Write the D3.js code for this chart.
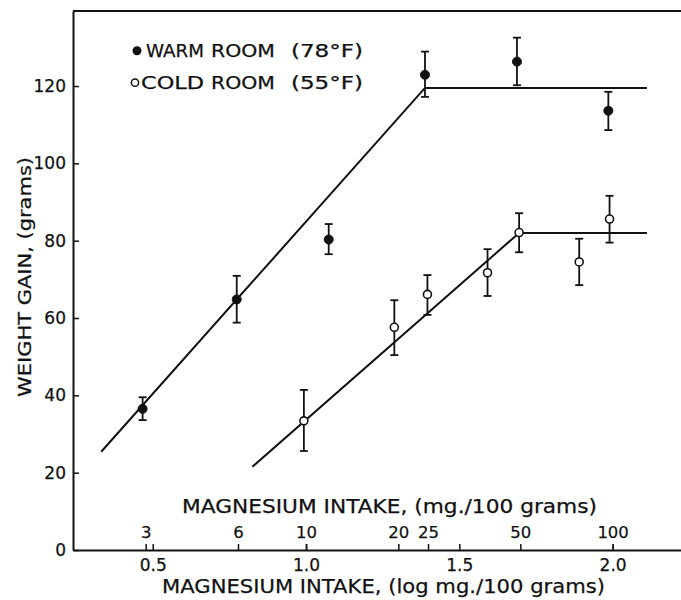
<!DOCTYPE html>
<html>
<head>
<meta charset="utf-8">
<script src="https://cdn.jsdelivr.net/npm/d3@7/dist/d3.min.js"></script>
<style>
  html, body { margin: 0; padding: 0; background: #fff; }
  svg text { font-family: "DejaVu Sans", "Liberation Sans", Arial, sans-serif; fill: #111; stroke: #111; stroke-width: 0.25px; }
</style>
</head>
<body>
<svg id="chart" width="681" height="600"></svg>
<script>
// ---- data ----
const warmLogIntake = [0.467, 0.774, 1.074, 1.388, 1.688, 1.986];
const warmGain      = [36.5, 64.8, 80.3, 122.9, 126.3, 113.6];
const warmLow       = [33.6, 58.8, 76.5, 117.2, 120.2, 108.6];
const warmHigh      = [39.5, 70.9, 84.3, 128.9, 132.5, 118.5];

const coldLogIntake = [0.993, 1.288, 1.396, 1.592, 1.695, 1.891, 1.990];
const coldGain      = [33.4, 57.6, 66.1, 71.7, 82.1, 74.5, 85.6];
const coldLow       = [25.6, 50.4, 60.8, 65.7, 77.0, 68.5, 79.5];
const coldHigh      = [41.4, 64.6, 71.1, 77.8, 87.1, 80.5, 91.6];

const warmFitX = [0.332, 1.388, 2.112];
const warmFitY = [25.4, 119.5, 119.5];
const coldFitX = [0.825, 1.695, 2.112];
const coldFitY = [21.5, 82.0, 82.0];

const yTicks = [0, 20, 40, 60, 80, 100, 120];
const logTicks = [0.5, 1.0, 1.5, 2.0];
const mgTicks = [3, 6, 10, 20, 25, 50, 100];

const legendWords = ["WARM", "COLD"];
const legendRoom = ["ROOM", "ROOM"];
const legendTemps = ["(78°F)", "(55°F)"];

// ---- layout ----
const svg = d3.select("#chart");
const x = d3.scaleLinear().domain([0.24, 2.223]).range([73, 681]);
const y = d3.scaleLinear().domain([0, 139.4]).range([550, 11]);
const ink = "#111";

// top frame line
svg.append("line")
  .attr("x1", x.range()[0]).attr("x2", x.range()[1])
  .attr("y1", y.range()[1]).attr("y2", y.range()[1])
  .attr("stroke", ink).attr("stroke-width", 2);

// y axis
const gy = svg.append("g").attr("transform", `translate(${x.range()[0]},0)`)
  .call(d3.axisLeft(y).tickValues(yTicks).tickSizeInner(-6).tickSizeOuter(0).tickPadding(7).tickFormat(d3.format("d")));
gy.select(".domain").attr("stroke", ink).attr("stroke-width", 2);
gy.selectAll(".tick line").attr("stroke", ink).attr("stroke-width", 1.5);
gy.selectAll(".tick text").style("font-size", "17px").attr("fill", ink);

// bottom log axis
const gx = svg.append("g").attr("transform", `translate(0,${y.range()[0]})`)
  .call(d3.axisBottom(x).tickValues(logTicks).tickSizeInner(-6).tickSizeOuter(0).tickPadding(0).tickFormat(d3.format(".1f")));
gx.select(".domain").attr("stroke", ink).attr("stroke-width", 2);
gx.selectAll(".tick line").attr("stroke", ink).attr("stroke-width", 1.5);
gx.selectAll(".tick text").attr("y", 20.5).attr("dy", null).style("font-size", "17px").attr("fill", ink);

// top (mg) tick labels on the same baseline axis
const gm = svg.append("g").attr("transform", `translate(0,${y.range()[0]})`)
  .call(d3.axisTop(x).tickValues(mgTicks.map(v => Math.log10(v))).tickSizeInner(6).tickSizeOuter(0).tickPadding(6)
    .tickFormat((d, i) => String(mgTicks[i])));
gm.select(".domain").remove();
gm.selectAll(".tick line").attr("stroke", ink).attr("stroke-width", 1.5);
gm.selectAll(".tick text").style("font-size", "16.5px").attr("fill", ink);

// axis titles
svg.append("text").attr("x", 389.5).attr("y", 513).attr("text-anchor", "middle")
  .attr("textLength", 415).attr("lengthAdjust", "spacingAndGlyphs")
  .style("font-size", "19px").text("MAGNESIUM  INTAKE, (mg./100 grams)");
svg.append("text").attr("x", 383.5).attr("y", 593).attr("text-anchor", "middle")
  .attr("textLength", 443).attr("lengthAdjust", "spacingAndGlyphs")
  .style("font-size", "20px").text("MAGNESIUM  INTAKE, (log  mg./100 grams)");
svg.append("text").attr("transform", "translate(31,277) rotate(-90)").attr("text-anchor", "middle")
  .attr("textLength", 240).attr("lengthAdjust", "spacingAndGlyphs")
  .style("font-size", "18px").text("WEIGHT  GAIN, (grams)");

// fitted lines
const line = d3.line().x(d => x(d[0])).y(d => y(d[1]));
[[warmFitX, warmFitY], [coldFitX, coldFitY]].forEach(([fx, fy]) => {
  svg.append("path").datum(fx.map((v, i) => [v, fy[i]]))
    .attr("d", line).attr("fill", "none").attr("stroke", ink).attr("stroke-width", 2);
});

// error bars and points
function series(xs, ys, lo, hi, filled) {
  const data = xs.map((v, i) => ({x: v, y: ys[i], lo: lo[i], hi: hi[i]}));
  const g = svg.append("g");
  g.selectAll(".eb").data(data).join("line")
    .attr("x1", d => x(d.x)).attr("x2", d => x(d.x))
    .attr("y1", d => y(d.lo)).attr("y2", d => y(d.hi))
    .attr("stroke", ink).attr("stroke-width", 1.8);
  ["lo", "hi"].forEach(k => {
    g.selectAll(".cap" + k).data(data).join("line")
      .attr("x1", d => x(d.x) - 4).attr("x2", d => x(d.x) + 4)
      .attr("y1", d => y(d[k])).attr("y2", d => y(d[k]))
      .attr("stroke", ink).attr("stroke-width", 1.8);
  });
  g.selectAll("circle").data(data).join("circle")
    .attr("cx", d => x(d.x)).attr("cy", d => y(d.y))
    .attr("r", filled ? 4.5 : 4)
    .attr("fill", filled ? ink : "#fff")
    .attr("stroke", ink).attr("stroke-width", filled ? 1 : 1.6);
}
series(warmLogIntake, warmGain, warmLow, warmHigh, true);
series(coldLogIntake, coldGain, coldLow, coldHigh, false);

// legend
const legY = [57.3, 89.3];
svg.append("circle").attr("cx", 137).attr("cy", 50.7).attr("r", 4.5).attr("fill", ink);
svg.append("circle").attr("cx", 135).attr("cy", 82.7).attr("r", 3.6).attr("fill", "#fff").attr("stroke", ink).attr("stroke-width", 1.5);
const wordX = [146, 141];
legendWords.forEach((w, i) => {
  svg.append("text").attr("x", wordX[i]).attr("y", legY[i])
    .attr("textLength", 204 - wordX[i]).attr("lengthAdjust", "spacingAndGlyphs")
    .style("font-size", "17.5px").text(w);
  svg.append("text").attr("x", 211).attr("y", legY[i])
    .attr("textLength", 64).attr("lengthAdjust", "spacingAndGlyphs")
    .style("font-size", "17.5px").text(legendRoom[i]);
  svg.append("text").attr("x", 291).attr("y", legY[i])
    .attr("textLength", 72).attr("lengthAdjust", "spacingAndGlyphs")
    .style("font-size", "17.5px").text(legendTemps[i]);
});
</script>
</body>
</html>
